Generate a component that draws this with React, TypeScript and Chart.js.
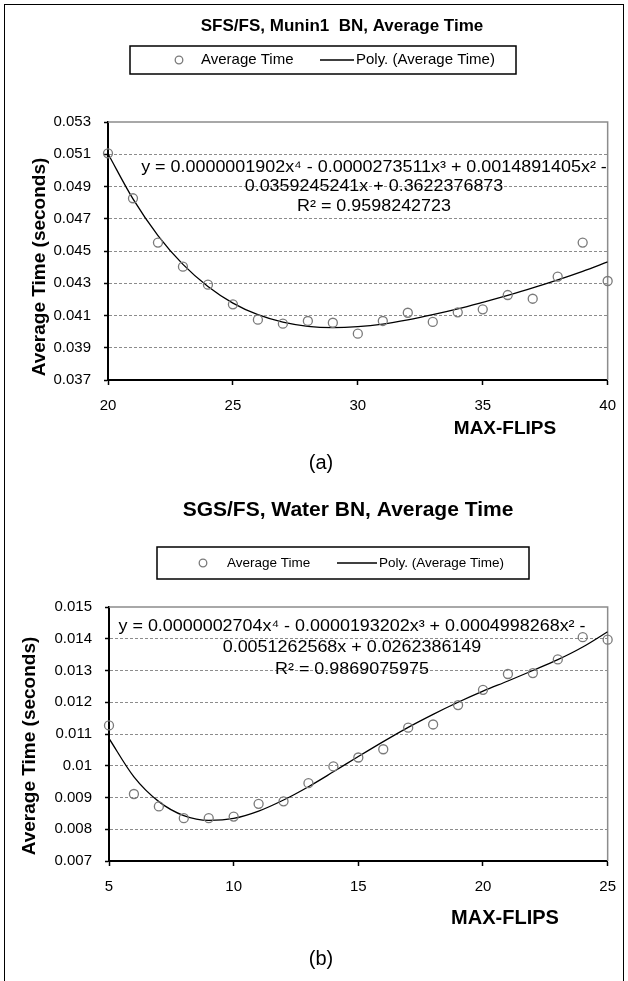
import React, { useEffect, useRef } from 'react';
import { Chart, registerables } from 'chart.js';

Chart.register(...registerables);

const FONT = '"Liberation Sans", Arial, Helvetica, sans-serif';

// ---------- Chart (a): SFS/FS, Munin1 BN ----------
const flipsA = [20, 21, 22, 23, 24, 25, 26, 27, 28, 29, 30, 31, 32, 33, 34, 35, 36, 37, 38, 39, 40];
const timeA = [0.05106, 0.04827, 0.04552, 0.04403, 0.04291, 0.04169, 0.04074, 0.04049, 0.04066, 0.04055, 0.03987,
  0.04066, 0.04117, 0.0406, 0.0412, 0.04138, 0.04227, 0.04204, 0.04341, 0.04552, 0.04314];
const trendA = [0.05103, 0.04823, 0.04596, 0.04417, 0.0428, 0.04177, 0.04105, 0.04059, 0.04033, 0.04025, 0.04031,
  0.04047, 0.04073, 0.04105, 0.04141, 0.04182, 0.04225, 0.04271, 0.04321, 0.04374, 0.04432];
const xTicksA = [20, 25, 30, 35, 40];
const yTicksA = [0.037, 0.039, 0.041, 0.043, 0.045, 0.047, 0.049, 0.051, 0.053];
const eqA = [
  'y = 0.0000001902x⁴ - 0.0000273511x³ + 0.0014891405x² -',
  '0.0359245241x + 0.3622376873',
  'R² = 0.9598242723',
];

// ---------- Chart (b): SGS/FS, Water BN ----------
const flipsB = [5, 6, 7, 8, 9, 10, 11, 12, 13, 14, 15, 16, 17, 18, 19, 20, 21, 22, 23, 24, 25];
const timeB = [0.01127, 0.00911, 0.00872, 0.00835, 0.00835, 0.0084, 0.0088, 0.00888, 0.00945, 0.00998, 0.01026,
  0.01052, 0.0112, 0.0113, 0.01191, 0.01239, 0.01289, 0.01292, 0.01335, 0.01405, 0.01397];
const trendB = [0.01086, 0.00965, 0.00887, 0.00843, 0.00828, 0.00834, 0.00857, 0.00892, 0.00934, 0.00981, 0.01029,
  0.01076, 0.01121, 0.01162, 0.012, 0.01235, 0.01267, 0.013, 0.01334, 0.01374, 0.01422];
const xTicksB = [5, 10, 15, 20, 25];
const yTicksB = [0.007, 0.008, 0.009, 0.01, 0.011, 0.012, 0.013, 0.014, 0.015];
const eqB = [
  'y = 0.0000002704x⁴ - 0.0000193202x³ + 0.0004998268x² -',
  '0.0051262568x + 0.0262386149',
  'R² = 0.9869075975',
];

const SERIES_LABEL = 'Average Time';
const TREND_LABEL = 'Poly. (Average Time)';
const Y_TITLE = 'Average Time (seconds)';
const X_TITLE = 'MAX-FLIPS';

type Decor = {
  title: { text: string; x: number; y: number; size: number };
  legend: { box: [number, number, number, number]; circleX: number; t1X: number; line: [number, number]; t2X: number; size: number };
  eq: { lines: string[]; x: number; ys: number[]; size: number; sx: number };
  yTitle: { x: number; y: number; size: number };
  xTitle: { x: number; y: number; size: number };
  caption: { text: string; x: number; y: number; size: number };
};

function drawText(ctx: CanvasRenderingContext2D, s: string, x: number, y: number, font: string,
  align: CanvasTextAlign = 'center', rot = 0, sx = 1) {
  ctx.save();
  ctx.translate(x, y);
  if (rot) ctx.rotate(rot);
  if (sx !== 1) ctx.scale(sx, 1);
  ctx.font = font;
  ctx.fillStyle = '#000';
  ctx.textAlign = align;
  ctx.textBaseline = 'middle';
  ctx.fillText(s, 0, 0);
  ctx.restore();
}

function makeDecor(d: Decor, off: number) {
  return {
    id: 'decor',
    beforeDatasetsDraw(chart: any) {
      const { ctx, chartArea: a } = chart;
      ctx.save();
      ctx.strokeStyle = '#8c8c8c';
      ctx.lineWidth = 1.5;
      ctx.beginPath();
      ctx.moveTo(a.left, a.top);
      ctx.lineTo(a.right, a.top);
      ctx.lineTo(a.right, a.bottom);
      ctx.stroke();
      ctx.restore();
    },
    afterDraw(chart: any) {
      const ctx: CanvasRenderingContext2D = chart.ctx;
      drawText(ctx, d.title.text, d.title.x, d.title.y - off, `bold ${d.title.size}px ${FONT}`);
      // legend
      const L = d.legend;
      const cy = (L.box[1] + L.box[3]) / 2 - off;
      ctx.save();
      ctx.strokeStyle = '#000';
      ctx.lineWidth = 1.5;
      ctx.strokeRect(L.box[0], L.box[1] - off, L.box[2] - L.box[0], L.box[3] - L.box[1]);
      ctx.strokeStyle = '#7a7a7a';
      ctx.lineWidth = 1.3;
      ctx.beginPath();
      ctx.arc(L.circleX, cy, 3.8, 0, Math.PI * 2);
      ctx.stroke();
      ctx.strokeStyle = '#000';
      ctx.lineWidth = 1.3;
      ctx.beginPath();
      ctx.moveTo(L.line[0], cy);
      ctx.lineTo(L.line[1], cy);
      ctx.stroke();
      ctx.restore();
      drawText(ctx, SERIES_LABEL, L.t1X, cy, `${L.size}px ${FONT}`, 'left');
      drawText(ctx, TREND_LABEL, L.t2X, cy, `${L.size}px ${FONT}`, 'left');
      // equation
      d.eq.lines.forEach((s, i) => drawText(ctx, s, d.eq.x, d.eq.ys[i] - off, `${d.eq.size}px ${FONT}`, 'center', 0, d.eq.sx));
      // axis titles
      drawText(ctx, Y_TITLE, d.yTitle.x, d.yTitle.y - off, `bold ${d.yTitle.size}px ${FONT}`, 'center', -Math.PI / 2);
      drawText(ctx, X_TITLE, d.xTitle.x, d.xTitle.y - off, `bold ${d.xTitle.size}px ${FONT}`);
      drawText(ctx, d.caption.text, d.caption.x, d.caption.y - off, `${d.caption.size}px ${FONT}`);
    },
  };
}

type Params = {
  flips: number[]; time: number[]; trend: number[]; xTicks: number[]; yTicks: number[];
  area: { left: number; right: number; top: number; bottom: number };
  canvasTop: number; canvasHeight: number; decor: Decor;
};

function makeConfig(p: Params): any {
  const yMin = Math.min(...p.yTicks);
  const yMax = Math.max(...p.yTicks);
  const xMin = Math.min(...p.xTicks);
  const xMax = Math.max(...p.xTicks);
  const tickFont = { family: FONT, size: 15 };
  return {
    type: 'scatter',
    data: {
      datasets: [
        {
          label: SERIES_LABEL,
          data: p.flips.map((x, i) => ({ x, y: p.time[i] })),
          showLine: false,
          pointRadius: 4.5,
          pointBorderWidth: 1.3,
          pointBorderColor: '#7a7a7a',
          pointBackgroundColor: 'rgba(0,0,0,0)',
          clip: false,
          order: 0,
        },
        {
          label: TREND_LABEL,
          data: p.flips.map((x, i) => ({ x, y: p.trend[i] })),
          showLine: true,
          borderColor: '#000',
          borderWidth: 1.3,
          pointRadius: 0,
          cubicInterpolationMode: 'monotone',
          fill: false,
          order: 1,
        },
      ],
    },
    options: {
      responsive: false,
      animation: false,
      events: [],
      devicePixelRatio: 1,
      layout: { padding: { top: p.area.top - p.canvasTop, right: 628 - p.area.right, left: 0, bottom: 0 } },
      scales: {
        x: {
          type: 'linear',
          min: xMin,
          max: xMax,
          afterBuildTicks: (s: any) => { s.ticks = p.xTicks.map((v) => ({ value: v })); },
          afterFit: (s: any) => { s.height = p.canvasTop + p.canvasHeight - p.area.bottom; },
          grid: { drawOnChartArea: false, drawTicks: true, tickLength: 5, tickColor: '#000', tickWidth: 1.5 },
          border: { color: '#000', width: 2 },
          ticks: { font: tickFont, color: '#000', padding: 12, maxRotation: 0, autoSkip: false, callback: (v: any) => String(v) },
        },
        y: {
          type: 'linear',
          min: yMin,
          max: yMax,
          afterBuildTicks: (s: any) => { s.ticks = p.yTicks.map((v) => ({ value: v })); },
          afterFit: (s: any) => { s.width = p.area.left; },
          grid: {
            color: (c: any) => {
              const v = c.tick ? c.tick.value : undefined;
              if (v === undefined || Math.abs(v - yMin) < 1e-9 || Math.abs(v - yMax) < 1e-9) return 'rgba(0,0,0,0)';
              return '#8c8c8c';
            },
            lineWidth: 1,
            drawTicks: true,
            tickLength: 4,
            tickColor: '#000',
            tickWidth: 1.5,
          },
          border: { color: '#000', width: 2, dash: [3, 2] },
          ticks: {
            font: tickFont, color: '#000', padding: 13, autoSkip: false,
            callback: (v: any) => String(Number(Number(v).toFixed(3))),
          },
        },
      },
      plugins: { legend: { display: false }, tooltip: { enabled: false }, title: { display: false } },
    },
    plugins: [makeDecor(p.decor, p.canvasTop)],
  };
}

const paramsA: Params = {
  flips: flipsA, time: timeA, trend: trendA, xTicks: xTicksA, yTicks: yTicksA,
  area: { left: 108, right: 613, top: 122, bottom: 380 },
  canvasTop: 0, canvasHeight: 490,
  decor: {
    title: { text: 'SFS/FS, Munin1  BN, Average Time', x: 342, y: 26, size: 17 },
    legend: { box: [130, 46, 516, 74], circleX: 179, t1X: 201, line: [320, 354], t2X: 356, size: 15 },
    eq: { lines: eqA, x: 374, ys: [168, 187, 207], size: 16, sx: 1.12 },
    yTitle: { x: 40, y: 267, size: 19 },
    xTitle: { x: 505, y: 429, size: 19 },
    caption: { text: '(a)', x: 321, y: 463, size: 20 },
  },
};

const paramsB: Params = {
  flips: flipsB, time: timeB, trend: trendB, xTicks: xTicksB, yTicks: yTicksB,
  area: { left: 109, right: 613, top: 607, bottom: 861 },
  canvasTop: 490, canvasHeight: 491,
  decor: {
    title: { text: 'SGS/FS, Water BN, Average Time', x: 348, y: 510, size: 21 },
    legend: { box: [157, 547, 529, 579], circleX: 203, t1X: 227, line: [337, 377], t2X: 379, size: 13.5 },
    eq: { lines: eqB, x: 352, ys: [627, 648, 670], size: 16, sx: 1.12 },
    yTitle: { x: 30, y: 746, size: 19 },
    xTitle: { x: 505, y: 918, size: 20 },
    caption: { text: '(b)', x: 321, y: 959, size: 20 },
  },
};

function ChartPanel({ params }: { params: Params }) {
  const ref = useRef<HTMLCanvasElement>(null);
  useEffect(() => {
    if (!ref.current) return;
    const chart = new Chart(ref.current, makeConfig(params));
    return () => chart.destroy();
  }, [params]);
  return (
    <canvas
      ref={ref}
      width={628}
      height={params.canvasHeight}
      style={{ position: 'absolute', left: 0, top: params.canvasTop, width: 628, height: params.canvasHeight, display: 'block' }}
    />
  );
}

export default function App() {
  return (
    <div style={{ position: 'absolute', left: 0, top: 0, width: 628, height: 981, overflow: 'hidden', background: '#fff' }}>
      <div
        style={{
          position: 'absolute', left: 4, top: 4, width: 620, height: 1000,
          border: '1px solid #000', boxSizing: 'border-box',
        }}
      />
      <ChartPanel params={paramsA} />
      <ChartPanel params={paramsB} />
    </div>
  );
}
